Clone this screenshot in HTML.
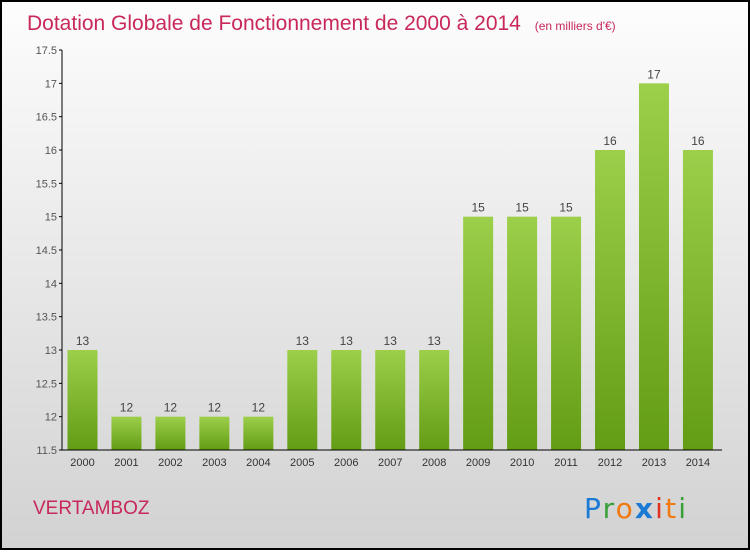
<!DOCTYPE html>
<html><head><meta charset="utf-8"><style>
body{margin:0;width:750px;height:550px;overflow:hidden;font-family:"Liberation Sans",sans-serif}
</style></head><body>
<svg width="750" height="550" xmlns="http://www.w3.org/2000/svg">
<defs>
<linearGradient id="bg" x1="0" y1="0" x2="0" y2="1"><stop offset="0" stop-color="#fdfdfd"/><stop offset="1" stop-color="#d2d2d2"/></linearGradient>
<linearGradient id="bar" x1="0" y1="0" x2="0" y2="1"><stop offset="0" stop-color="#9ccf4a"/><stop offset="1" stop-color="#639c15"/></linearGradient>
</defs>
<rect x="1" y="1" width="748" height="548" fill="url(#bg)" stroke="#000" stroke-width="2"/>
<text x="27" y="30" font-size="21" fill="#c8285a">Dotation Globale de Fonctionnement de 2000 à 2014 <tspan font-size="12" dx="8">(en milliers d'€)</tspan></text>
<g id="yaxis"></g>
<g id="bars"></g>
<g id="xaxis"></g>
<text x="33" y="514" font-size="19" fill="#c8285a">VERTAMBOZ</text>
<g font-size="28" font-family="'DejaVu Sans',sans-serif">
<text x="584" y="518" fill="#1a7ad4" textLength="102">P<tspan fill="#3aa03a">r</tspan><tspan fill="#f07a10">o</tspan><tspan fill="#1a7ad4" font-weight="bold">x</tspan><tspan fill="#e03020">i</tspan><tspan fill="#f07a10">t</tspan><tspan fill="#3aa03a">i</tspan></text>
</g>
</svg>
<script>
const categories=["2000","2001","2002","2003","2004","2005","2006","2007","2008","2009","2010","2011","2012","2013","2014"];
const values=[13,12,12,12,12,13,13,13,13,15,15,15,16,17,16];
const yTicks=[11.5,12,12.5,13,13.5,14,14.5,15,15.5,16,16.5,17,17.5];
const NS="http://www.w3.org/2000/svg";
function y(v){return 450-(v-11.5)*(400/6);}
function x(i){return 82.5+i*43.96;}
function mk(t,a,p){const e=document.createElementNS(NS,t);for(const k in a)e.setAttribute(k,a[k]);p.appendChild(e);return e;}
const ya=document.getElementById('yaxis'),bg=document.getElementById('bars'),xa=document.getElementById('xaxis');
mk('line',{x1:62,y1:50,x2:62,y2:450,stroke:'#000'},ya);
yTicks.forEach(t=>{
 mk('line',{x1:59,y1:y(t),x2:62,y2:y(t),stroke:'#000'},ya);
 const tx=mk('text',{x:57,y:y(t)+4,'text-anchor':'end','font-size':11,fill:'#555'},ya);
 tx.textContent=String(t);
 
 
});
mk('line',{x1:62,y1:450,x2:722,y2:450,stroke:'#000'},xa);
categories.forEach((c,i)=>{
 const r=mk('rect',{x:x(i)-15,y:y(values[i]),width:30,height:450-y(values[i]),fill:'url(#bar)'},bg);
 
 
 const l=mk('text',{x:x(i),y:y(values[i])-5,'text-anchor':'middle','font-size':12,fill:'#444'},bg);
 l.textContent=values[i];
 
 
 const t=mk('text',{x:x(i),y:466,'text-anchor':'middle','font-size':11,fill:'#333'},xa);
 t.textContent=c;
 
 
});
</script>
</body></html>
